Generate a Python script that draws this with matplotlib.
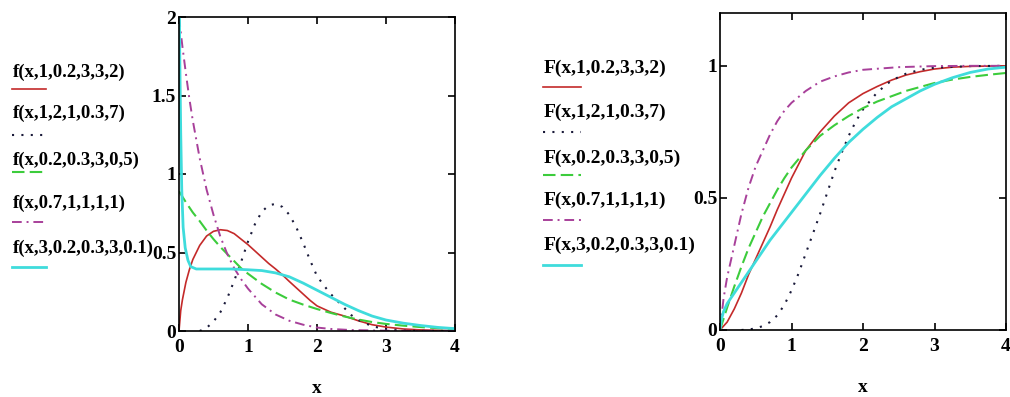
import matplotlib
matplotlib.use("Agg")
import matplotlib.pyplot as plt

# ---------------- data ----------------
pdf_labels = ["f(x,1,0.2,3,3,2)", "f(x,1,2,1,0.3,7)", "f(x,0.2,0.3,3,0,5)",
              "f(x,0.7,1,1,1,1)", "f(x,3,0.2,0.3,3,0.1)"]
cdf_labels = ["F(x,1,0.2,3,3,2)", "F(x,1,2,1,0.3,7)", "F(x,0.2,0.3,3,0,5)",
              "F(x,0.7,1,1,1,1)", "F(x,3,0.2,0.3,3,0.1)"]

x_ticks = [0, 1, 2, 3, 4]
pdf_yticks = [0, 0.5, 1, 1.5, 2]
pdf_ytick_labels = ["0", "0.5", "1", "1.5", "2"]
cdf_yticks = [0, 0.5, 1]
cdf_ytick_labels = ["0", "0.5", "1"]

# density curves
red_pdf_x = [0, 0.025, 0.05, 0.1, 0.15, 0.2, 0.3, 0.4, 0.5, 0.6, 0.7, 0.8, 0.9, 1.0,
             1.1, 1.2, 1.3, 1.4, 1.5, 1.6, 1.7, 1.8, 1.9, 2.0, 2.2, 2.4, 2.6, 2.8,
             3.0, 3.25, 3.5, 3.75, 4.0]
red_pdf_y = [0, 0.13, 0.2, 0.31, 0.39, 0.455, 0.545, 0.605, 0.635, 0.645, 0.64, 0.62,
             0.585, 0.55, 0.51, 0.47, 0.43, 0.395, 0.357, 0.315, 0.275, 0.235, 0.195,
             0.16, 0.12, 0.095, 0.065, 0.04, 0.025, 0.013, 0.007, 0.004, 0.002]

black_pdf_x = [0.3, 0.4, 0.5, 0.6, 0.7, 0.8, 0.9, 1.0, 1.1, 1.2, 1.3, 1.4, 1.5, 1.6,
               1.7, 1.8, 1.9, 2.0, 2.1, 2.2, 2.3, 2.4, 2.5, 2.6, 2.8, 3.0, 3.25, 3.5, 4.0]
black_pdf_y = [0, 0.02, 0.06, 0.12, 0.21, 0.32, 0.44, 0.57, 0.68, 0.76, 0.80, 0.81,
               0.79, 0.74, 0.66, 0.56, 0.45, 0.35, 0.29, 0.235, 0.19, 0.145, 0.10,
               0.07, 0.03, 0.012, 0.003, 0.001, 0]

green_pdf_x = [0, 0.1, 0.2, 0.3, 0.4, 0.5, 0.6, 0.7, 0.8, 0.9, 1.0, 1.2, 1.4, 1.6,
               1.8, 2.0, 2.2, 2.4, 2.6, 2.8, 3.0, 3.25, 3.5, 3.75, 4.0]
green_pdf_y = [0.89, 0.82, 0.755, 0.70, 0.64, 0.585, 0.535, 0.49, 0.445, 0.40, 0.365,
               0.30, 0.245, 0.20, 0.168, 0.14, 0.115, 0.092, 0.073, 0.057, 0.045,
               0.034, 0.025, 0.018, 0.013]

magenta_pdf_x = [0, 0.05, 0.1, 0.15, 0.2, 0.3, 0.4, 0.5, 0.6, 0.7, 0.8, 0.9, 1.0,
                 1.2, 1.4, 1.6, 1.8, 2.0, 2.2, 2.5, 3.0, 3.5, 4.0]
magenta_pdf_y = [2.0, 1.81, 1.64, 1.48, 1.34, 1.10, 0.90, 0.74, 0.60, 0.49, 0.40,
                 0.33, 0.27, 0.17, 0.105, 0.065, 0.04, 0.022, 0.013, 0.006, 0.002,
                 0.001, 0.0005]

cyan_pdf_x = [0, 0.01, 0.025, 0.04, 0.06, 0.09, 0.13, 0.17, 0.25, 0.5, 0.75, 1.0,
              1.2, 1.4, 1.6, 1.8, 2.0, 2.2, 2.4, 2.6, 2.8, 3.0, 3.25, 3.5, 3.75, 4.0]
cyan_pdf_y = [2.5, 1.8, 1.26, 0.9, 0.66, 0.53, 0.45, 0.41, 0.395, 0.395, 0.395, 0.39,
              0.385, 0.37, 0.345, 0.305, 0.26, 0.215, 0.17, 0.13, 0.095, 0.07, 0.05,
              0.035, 0.023, 0.015]

# distribution functions
red_cdf_x = [0, 0.1, 0.2, 0.3, 0.4, 0.5, 0.6, 0.7, 0.8, 0.9, 1.0, 1.2, 1.4, 1.6, 1.8,
             2.0, 2.2, 2.4, 2.6, 2.8, 3.0, 3.25, 3.5, 4.0]
red_cdf_y = [0, 0.03, 0.08, 0.14, 0.21, 0.27, 0.33, 0.39, 0.455, 0.515, 0.575, 0.68,
             0.75, 0.81, 0.86, 0.895, 0.922, 0.946, 0.965, 0.978, 0.988, 0.995, 0.998,
             1.0]

black_cdf_x = [0.3, 0.4, 0.5, 0.6, 0.7, 0.8, 0.9, 1.0, 1.1, 1.2, 1.3, 1.4, 1.5, 1.6,
               1.7, 1.8, 1.9, 2.0, 2.2, 2.4, 2.6, 2.8, 3.0, 3.5, 4.0]
black_cdf_y = [0, 0.002, 0.006, 0.015, 0.03, 0.055, 0.095, 0.15, 0.215, 0.29, 0.365,
               0.44, 0.52, 0.60, 0.67, 0.735, 0.79, 0.835, 0.9, 0.945, 0.97, 0.985,
               0.993, 0.999, 1.0]

green_cdf_x = [0, 0.1, 0.2, 0.3, 0.4, 0.5, 0.6, 0.7, 0.8, 0.9, 1.0, 1.2, 1.4, 1.6,
               1.8, 2.0, 2.2, 2.4, 2.6, 2.8, 3.0, 3.25, 3.5, 3.75, 4.0]
green_cdf_y = [0, 0.085, 0.165, 0.24, 0.31, 0.37, 0.43, 0.48, 0.53, 0.575, 0.615,
               0.68, 0.735, 0.775, 0.81, 0.84, 0.865, 0.885, 0.905, 0.92, 0.935,
               0.948, 0.958, 0.966, 0.973]

magenta_cdf_x = [0, 0.05, 0.1, 0.2, 0.3, 0.4, 0.5, 0.6, 0.7, 0.8, 0.9, 1.0, 1.2, 1.4,
                 1.6, 1.8, 2.0, 2.5, 3.0, 3.5, 4.0]
magenta_cdf_y = [0, 0.12, 0.2, 0.32, 0.44, 0.54, 0.62, 0.68, 0.74, 0.79, 0.83, 0.86,
                 0.905, 0.94, 0.96, 0.975, 0.985, 0.995, 0.999, 1.0, 1.0]

cyan_cdf_x = [0, 0.02, 0.05, 0.1, 0.15, 0.2, 0.3, 0.4, 0.5, 0.6, 0.7, 0.8, 0.9, 1.0,
              1.2, 1.4, 1.6, 1.8, 2.0, 2.2, 2.4, 2.6, 2.8, 3.0, 3.25, 3.5, 3.75, 4.0]
cyan_cdf_y = [0, 0.04, 0.07, 0.1, 0.12, 0.14, 0.18, 0.22, 0.26, 0.30, 0.34, 0.375,
              0.41, 0.445, 0.515, 0.585, 0.65, 0.71, 0.76, 0.805, 0.845, 0.875, 0.905,
              0.93, 0.955, 0.975, 0.988, 0.995]

# ---------------- styling ----------------
FONT = "Liberation Serif"
styles = [
    dict(color="#c42a2a", lw=1.2, ls="-"),
    dict(color="#1a1a3a", lw=1.5, ls=(0, (1, 3.5))),
    dict(color="#3ccc3c", lw=1.5, ls=(0, (6, 2.5))),
    dict(color="#a8409a", lw=1.4, ls=(0, (5, 2.5, 1, 2.5))),
    dict(color="#3fdcdc", lw=2.0, ls="-"),
]

fig = plt.figure(figsize=(10.10, 3.97), dpi=100)
W, H = 1010.0, 397.0


def style_axes(ax, yticks, ylabels, ylim):
    ax.set_xlim(0, 4)
    ax.set_ylim(*ylim)
    ax.set_xticks(x_ticks)
    ax.set_xticklabels([str(t) for t in x_ticks])
    ax.set_yticks(yticks)
    ax.set_yticklabels(ylabels)
    ax.tick_params(direction="in", length=5, width=1.2, top=True, right=True,
                   labelsize=14)
    ax.tick_params(axis="x", pad=6)
    ax.tick_params(axis="y", pad=2)
    for lab in ax.get_xticklabels() + ax.get_yticklabels():
        lab.set_fontfamily(FONT)
        lab.set_fontweight("bold")
    for sp in ax.spines.values():
        sp.set_linewidth(1.2)
    ax.set_xlabel("x", fontfamily=FONT, fontweight="bold", fontsize=14, labelpad=17)


def legend_block(labels, x0, text_ys, line_ys, line_len, fs):
    for lab, ty, ly, st in zip(labels, text_ys, line_ys, styles):
        fig.text(x0 / W, 1 - ty / H, lab, fontfamily=FONT, fontweight="bold",
                 fontsize=fs, ha="left", va="center")
        fig.add_artist(plt.Line2D([(x0 - 1) / W, (x0 - 1 + line_len) / W],
                                  [1 - ly / H, 1 - ly / H], transform=fig.transFigure,
                                  color=st["color"], lw=st["lw"], ls=st["ls"]))


# left: densities
ax1 = fig.add_axes([179 / W, 1 - 331 / H, 276 / W, 314 / H])
pdf_series = [(red_pdf_x, red_pdf_y), (black_pdf_x, black_pdf_y),
              (green_pdf_x, green_pdf_y), (magenta_pdf_x, magenta_pdf_y),
              (cyan_pdf_x, cyan_pdf_y)]
for (xs, ys), st in zip(pdf_series, styles):
    ax1.plot(xs, ys, color=st["color"], lw=st["lw"], ls=st["ls"])
style_axes(ax1, pdf_yticks, pdf_ytick_labels, (0, 2))

# right: distribution functions
ax2 = fig.add_axes([720 / W, 1 - 330 / H, 286 / W, 317 / H])
cdf_series = [(red_cdf_x, red_cdf_y), (black_cdf_x, black_cdf_y),
              (green_cdf_x, green_cdf_y), (magenta_cdf_x, magenta_cdf_y),
              (cyan_cdf_x, cyan_cdf_y)]
for (xs, ys), st in zip(cdf_series, styles):
    ax2.plot(xs, ys, color=st["color"], lw=st["lw"], ls=st["ls"])
style_axes(ax2, cdf_yticks, cdf_ytick_labels, (0, 1.2))

legend_block(pdf_labels, 13, [72, 113, 160, 203, 248], [89, 135, 172, 222, 267], 34, 13.5)
legend_block(cdf_labels, 544, [68, 112, 158, 200, 245], [87, 132, 175, 220, 265], 38, 14)

fig.savefig("out.png", dpi=100)
